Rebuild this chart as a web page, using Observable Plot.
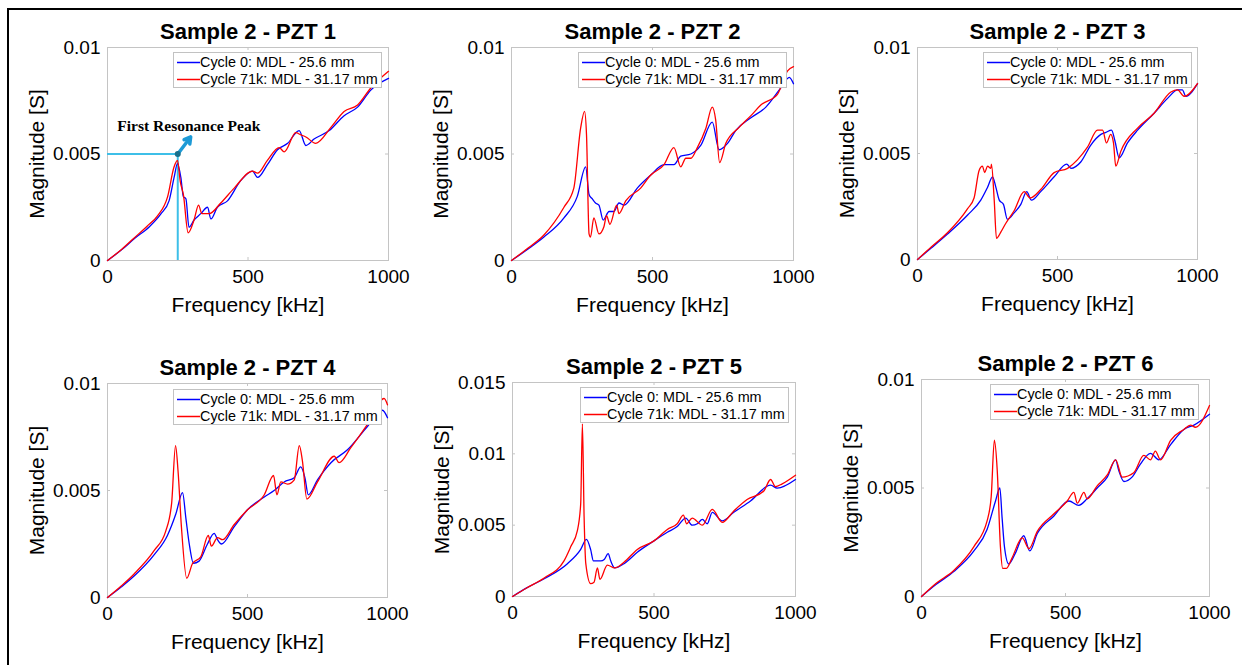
<!DOCTYPE html>
<html><head><meta charset="utf-8">
<script src="https://cdn.jsdelivr.net/npm/d3@7"></script>
<script src="https://cdn.jsdelivr.net/npm/@observablehq/plot@0.6"></script>
<style>
body{margin:0;background:#fff;font-family:"Liberation Sans",Arial,Helvetica,sans-serif;}
#root{position:relative;width:1242px;height:665px;overflow:hidden;background:#fff;}
#frame{position:absolute;left:7px;top:8px;width:1300px;height:700px;border-left:2px solid #000;border-top:2px solid #000;}
.panel{position:absolute;}
.panel svg{overflow:visible;}
.legend{position:absolute;background:#fff;border:1px solid #c2c2c2;box-sizing:border-box;font-size:14.4px;color:#000;}
.legend .row{position:absolute;left:0;height:16px;white-space:nowrap;}
.legend .sw{position:absolute;left:3px;top:0;}
.legend .lab{position:absolute;left:26px;top:0;line-height:16px;}
</style>
</head><body>
<div id="root"><div id="frame"></div></div>
<script>
// ---------- data ----------
const xTicks = [0, 500, 1000];
const yTicksSmall = [0, 0.005, 0.01];
const yTicksLarge = [0, 0.005, 0.01, 0.015];
const seriesNames = ["Cycle 0: MDL - 25.6 mm", "Cycle 71k: MDL - 31.17 mm"];
const titles = ["Sample 2 - PZT 1","Sample 2 - PZT 2","Sample 2 - PZT 3","Sample 2 - PZT 4","Sample 2 - PZT 5","Sample 2 - PZT 6"];

// PZT 1
const p1_c0_freq = [0, 50, 95, 150, 190, 219, 237, 249, 261, 270, 279, 290, 308, 332, 356, 368, 391, 427, 474, 516, 534, 569, 605, 641, 682, 706, 735, 789, 842, 890, 937, 1000];
const p1_c0_mag  = [0, 0.0005, 0.00102, 0.0016, 0.00219, 0.0028, 0.0039, 0.00455, 0.0039, 0.003, 0.0029, 0.00156, 0.0019, 0.0022, 0.0025, 0.00195, 0.0025, 0.0028, 0.00375, 0.0042, 0.0039, 0.0045, 0.0052, 0.0055, 0.0061, 0.0054, 0.0057, 0.0061, 0.0068, 0.0072, 0.008, 0.00855];
const p1_c71_freq = [0, 50, 95, 140, 178, 214, 237, 249, 259, 270, 287, 308, 324, 336, 362, 403, 451, 516, 534, 569, 611, 629, 670, 688, 706, 741, 795, 842, 890, 937, 1000];
const p1_c71_mag  = [0, 0.00052, 0.00106, 0.0016, 0.0021, 0.003, 0.0044, 0.0047, 0.0037, 0.0031, 0.0013, 0.0019, 0.0026, 0.0022, 0.0022, 0.0027, 0.0034, 0.0042, 0.0041, 0.0047, 0.0053, 0.0051, 0.006, 0.0059, 0.0058, 0.0055, 0.00625, 0.007, 0.0073, 0.0081, 0.00888];

// PZT 2
const p2_c0_freq = [0, 60, 115, 186, 233, 263, 275, 286, 298, 310, 325, 346, 363, 381, 399, 446, 493, 541, 576, 600, 636, 671, 712, 736, 766, 795, 849, 902, 955, 985, 1000];
const p2_c0_mag  = [0, 0.00055, 0.0011, 0.002, 0.003, 0.0044, 0.0031, 0.0029, 0.0027, 0.0026, 0.0019, 0.0023, 0.0023, 0.0027, 0.0026, 0.0034, 0.004, 0.0045, 0.0045, 0.0049, 0.005, 0.0054, 0.0065, 0.0052, 0.0055, 0.0061, 0.0067, 0.0072, 0.0081, 0.0086, 0.0083];
const p2_c71_freq = [0, 60, 115, 186, 221, 245, 259, 266, 275, 280, 292, 310, 328, 337, 349, 373, 381, 405, 458, 493, 541, 576, 600, 618, 636, 659, 689, 712, 724, 738, 760, 807, 849, 884, 943, 979, 1000];
const p2_c71_mag  = [0, 0.0006, 0.0012, 0.0025, 0.0034, 0.0062, 0.007, 0.0059, 0.00125, 0.0011, 0.002, 0.00125, 0.0016, 0.0021, 0.0017, 0.0026, 0.0022, 0.0028, 0.0034, 0.004, 0.0045, 0.0053, 0.0044, 0.0048, 0.0048, 0.0053, 0.0062, 0.0072, 0.0066, 0.0046, 0.0055, 0.00625, 0.0068, 0.0073, 0.0078, 0.0089, 0.0091];

// PZT 3
const p3_c0_freq = [0, 50, 107, 179, 226, 250, 268, 280, 292, 307, 321, 345, 369, 390, 407, 440, 488, 533, 548, 583, 619, 655, 673, 693, 705, 720, 750, 786, 845, 893, 929, 946, 958, 1000];
const p3_c0_mag  = [0, 0.00055, 0.0012, 0.0021, 0.0028, 0.0034, 0.0039, 0.0034, 0.0028, 0.0026, 0.0019, 0.0022, 0.0026, 0.0032, 0.0028, 0.0032, 0.0039, 0.0045, 0.0043, 0.0046, 0.0054, 0.0059, 0.006, 0.0061, 0.0056, 0.0048, 0.0055, 0.0061, 0.0069, 0.0076, 0.008, 0.008, 0.0077, 0.0083];
const p3_c71_freq = [0, 50, 107, 179, 202, 220, 232, 240, 250, 262, 264, 274, 282, 298, 315, 345, 381, 402, 440, 488, 536, 571, 607, 643, 661, 675, 690, 700, 708, 726, 786, 845, 905, 929, 952, 1000];
const p3_c71_mag  = [0, 0.0006, 0.00126, 0.0024, 0.0029, 0.0042, 0.0044, 0.0041, 0.0044, 0.0043, 0.0045, 0.0028, 0.001, 0.0013, 0.0017, 0.0023, 0.0032, 0.0029, 0.0033, 0.0041, 0.0043, 0.0047, 0.0053, 0.0061, 0.0061, 0.0055, 0.0059, 0.0055, 0.0044, 0.0051, 0.0062, 0.0069, 0.0079, 0.008, 0.0077, 0.0083];

// PZT 4
const p4_c0_freq = [0, 50, 95, 167, 214, 244, 268, 280, 292, 307, 327, 357, 381, 393, 407, 452, 500, 560, 595, 631, 667, 690, 705, 717, 750, 798, 857, 929, 982, 1000];
const p4_c0_mag  = [0, 0.0005, 0.001, 0.002, 0.0029, 0.0039, 0.0049, 0.0037, 0.0025, 0.0016, 0.0017, 0.0025, 0.003, 0.0027, 0.0025, 0.0033, 0.0041, 0.0047, 0.005, 0.0054, 0.0056, 0.0061, 0.0056, 0.0048, 0.0055, 0.0063, 0.0069, 0.008, 0.00875, 0.0084];
const p4_c71_freq = [0, 50, 95, 167, 208, 229, 243, 252, 264, 283, 304, 333, 360, 371, 393, 411, 452, 500, 560, 593, 605, 619, 643, 667, 685, 696, 712, 750, 810, 827, 869, 929, 988, 1000];
const p4_c71_mag  = [0, 0.00055, 0.0011, 0.0022, 0.0031, 0.0044, 0.0071, 0.0059, 0.0033, 0.0009, 0.0016, 0.0019, 0.0029, 0.0024, 0.0028, 0.0027, 0.0034, 0.0041, 0.0048, 0.0057, 0.0048, 0.0054, 0.0053, 0.0055, 0.0071, 0.0064, 0.0046, 0.0054, 0.0066, 0.0063, 0.007, 0.0081, 0.0093, 0.009];

// PZT 5
const p5_c0_freq = [0, 50, 112, 194, 241, 261, 276, 286, 312, 324, 338, 347, 361, 394, 441, 500, 547, 582, 612, 635, 653, 671, 688, 706, 741, 782, 841, 912, 935, 1000];
const p5_c0_mag  = [0, 0.0006, 0.00124, 0.0023, 0.0033, 0.004, 0.0033, 0.0025, 0.0025, 0.0026, 0.003, 0.0025, 0.002, 0.0023, 0.0031, 0.0039, 0.0045, 0.0049, 0.0055, 0.005, 0.0051, 0.0054, 0.0051, 0.0059, 0.0053, 0.0059, 0.0067, 0.0078, 0.0076, 0.0082];
const p5_c71_freq = [0, 50, 112, 182, 206, 229, 241, 247, 253, 259, 276, 288, 300, 309, 335, 361, 394, 441, 500, 547, 582, 604, 615, 635, 671, 706, 741, 782, 829, 888, 912, 929, 953, 1000];
const p5_c71_mag  = [0, 0.0006, 0.0013, 0.0025, 0.0035, 0.0046, 0.0065, 0.0121, 0.0056, 0.0023, 0.0009, 0.001, 0.002, 0.0012, 0.0022, 0.002, 0.0024, 0.0033, 0.0039, 0.0047, 0.0051, 0.0057, 0.0051, 0.0055, 0.005, 0.0061, 0.0052, 0.006, 0.0068, 0.0074, 0.0082, 0.0077, 0.0079, 0.0085];

// PZT 6
const p6_c0_freq = [0, 50, 112, 182, 228, 257, 272, 280, 288, 303, 326, 355, 376, 402, 459, 512, 546, 575, 610, 645, 674, 685, 703, 731, 760, 795, 824, 865, 911, 946, 1000];
const p6_c0_mag  = [0, 0.00055, 0.00115, 0.0021, 0.0031, 0.0044, 0.005, 0.0036, 0.0023, 0.0015, 0.002, 0.0028, 0.0021, 0.0029, 0.0037, 0.0044, 0.0042, 0.0045, 0.005, 0.0055, 0.0063, 0.0058, 0.0053, 0.0055, 0.0061, 0.0066, 0.0063, 0.007, 0.0077, 0.0079, 0.0084];
const p6_c71_freq = [0, 50, 112, 182, 228, 242, 253, 263, 274, 282, 295, 315, 350, 373, 402, 459, 506, 529, 541, 564, 575, 610, 645, 674, 697, 737, 772, 795, 812, 830, 865, 911, 934, 951, 1000];
const p6_c71_mag  = [0, 0.0006, 0.0012, 0.0023, 0.0035, 0.0046, 0.0072, 0.0058, 0.0023, 0.0013, 0.0013, 0.0018, 0.0027, 0.0022, 0.003, 0.0038, 0.0044, 0.0048, 0.0043, 0.0048, 0.0045, 0.0051, 0.0056, 0.0063, 0.0055, 0.0057, 0.0065, 0.0063, 0.0067, 0.0063, 0.0072, 0.0077, 0.0079, 0.0078, 0.0088];

// Annotation on PZT 1
const annotText = "First Resonance Peak";
const peakFreq = 250, peakMag = 0.005;
const arrowTip = {f: 296, m: 0.0058};
const annotPos = {f: 35, m: 0.0063};

// ---------- layout (plot-area rectangles in page px) ----------
const layout = [
  {rect:[107,47,388,260], legend:[173,52]},
  {rect:[511,47,793,260], legend:[578,52]},
  {rect:[917,47,1197,259], legend:[983,52]},
  {rect:[107,383,387,597], legend:[173,389]},
  {rect:[512,382,795,596], legend:[580,387]},
  {rect:[921,379,1209,596], legend:[990,384]}
];
const seriesData = [
  [p1_c0_freq,p1_c0_mag,p1_c71_freq,p1_c71_mag],
  [p2_c0_freq,p2_c0_mag,p2_c71_freq,p2_c71_mag],
  [p3_c0_freq,p3_c0_mag,p3_c71_freq,p3_c71_mag],
  [p4_c0_freq,p4_c0_mag,p4_c71_freq,p4_c71_mag],
  [p5_c0_freq,p5_c0_mag,p5_c71_freq,p5_c71_mag],
  [p6_c0_freq,p6_c0_mag,p6_c71_freq,p6_c71_mag]
];
const yTickSets = [yTicksSmall,yTicksSmall,yTicksSmall,yTicksSmall,yTicksLarge,yTicksSmall];

const BLUE = "#0000ff", RED = "#ff0000", GRID = "#c4c4c4";
const root = document.getElementById("root");
const mL = 100, mT = 45, mR = 20, mB = 65;

layout.forEach((lay, i) => {
  const [L,T,R,B] = lay.rect;
  const W = R - L, H = B - T;
  const [f0,m0,f1,m1] = seriesData[i];
  const rows0 = f0.map((f,k) => ({f, m: m0[k]}));
  const rows1 = f1.map((f,k) => ({f, m: m1[k]}));
  const yt = yTickSets[i];
  const ymax = yt[yt.length-1];
  const marks = [
    Plot.frame({stroke: GRID}),
    Plot.tickX(xTicks, {x: d => d, insetTop: H - 3, stroke: GRID}),
    Plot.tickX(xTicks, {x: d => d, insetBottom: H - 3, stroke: GRID}),
    Plot.tickY(yt, {y: d => d, insetRight: W - 3, stroke: GRID}),
    Plot.tickY(yt, {y: d => d, insetLeft: W - 3, stroke: GRID}),
    Plot.axisX({ticks: xTicks, tickFormat: d => String(d), tickSize: 0, tickPadding: 9, fontSize: 19, label: null}),
    Plot.axisY({ticks: yt, tickFormat: d => String(d), tickSize: 0, tickPadding: 7, fontSize: 19, label: null}),
  ];
  if (i === 0) {
    const cy = "#3dbfe8";
    marks.push(
      Plot.ruleY([peakMag], {x1: 0, x2: peakFreq, stroke: cy, strokeWidth: 2}),
      Plot.ruleX([peakFreq], {y1: 0, y2: peakMag, stroke: cy, strokeWidth: 2})
    );
  }
  marks.push(
    Plot.line(rows0, {x: "f", y: "m", stroke: BLUE, strokeWidth: 1.3, curve: "monotone-x"}),
    Plot.line(rows1, {x: "f", y: "m", stroke: RED, strokeWidth: 1.3, curve: "monotone-x"}),
    Plot.text([titles[i]], {text: d => d, frameAnchor: "top", lineAnchor: "middle", textAnchor: "middle", dy: -16, fontSize: 22, fontWeight: "bold"}),
    Plot.text(["Frequency [kHz]"], {text: d => d, frameAnchor: "bottom", lineAnchor: "middle", textAnchor: "middle", dy: 45, fontSize: 21}),
    Plot.text(["Magnitude [S]"], {text: d => d, frameAnchor: "left", lineAnchor: "middle", textAnchor: "middle", dx: -70, rotate: -90, fontSize: 21})
  );
  if (i === 0) {
    marks.push(
      Plot.arrow([{x1: peakFreq, y1: peakMag, x2: arrowTip.f, y2: arrowTip.m}], {x1: "x1", y1: "y1", x2: "x2", y2: "y2", stroke: "#1d9ad6", strokeWidth: 3.5, headLength: 9}),
      Plot.dot([{f: peakFreq, m: peakMag}], {x: "f", y: "m", r: 3, fill: "#17708c"}),
      Plot.text([annotText], {text: d => d, x: annotPos.f, y: annotPos.m, textAnchor: "start", fontFamily: "Liberation Serif, Times New Roman, serif", fontWeight: "bold", fontSize: 15.5})
    );
  }
  const chart = Plot.plot({
    width: W + mL + mR, height: H + mT + mB,
    marginLeft: mL, marginRight: mR, marginTop: mT, marginBottom: mB,
    style: {fontFamily: "Liberation Sans, Arial, sans-serif", background: "transparent", color: "#000"},
    x: {domain: [0, 1000]},
    y: {domain: [0, ymax]},
    marks
  });
  const div = document.createElement("div");
  div.className = "panel";
  div.style.left = (L - mL) + "px";
  div.style.top = (T - mT) + "px";
  div.appendChild(chart);
  root.appendChild(div);

  // legend
  const lg = document.createElement("div");
  lg.className = "legend";
  lg.style.left = lay.legend[0] + "px";
  lg.style.top = lay.legend[1] + "px";
  lg.style.width = "209px";
  lg.style.height = "36px";
  [BLUE, RED].forEach((c, k) => {
    const row = document.createElement("div");
    row.className = "row";
    row.style.top = (1 + k * 17) + "px";
    row.innerHTML = `<svg class="sw" width="23" height="16"><line x1="0" y1="8.5" x2="23" y2="8.5" stroke="${c}" stroke-width="1.5"/></svg><div class="lab">${seriesNames[k]}</div>`;
    lg.appendChild(row);
  });
  root.appendChild(lg);
});
</script>
</body></html>
